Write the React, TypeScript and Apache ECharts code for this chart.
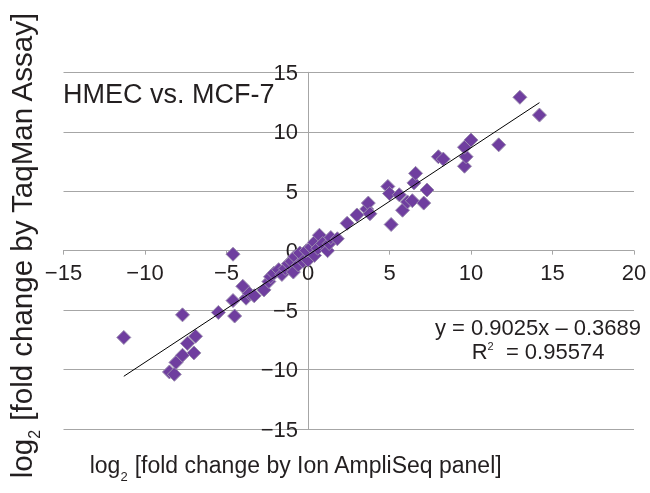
import React, { useEffect, useRef } from 'react';
import * as echarts from 'echarts';

const FONT = '"Helvetica Neue", "Liberation Sans", Arial, sans-serif';

// log2 fold change by Ion AmpliSeq panel (x)
const ampliSeqLog2 = [
  -11.3, -8.5, -8.2, -8.1, -7.7, -7.7, -7.4, -7.0, -6.9, -5.5,
  -4.6, -4.6, -4.5, -4.0, -3.8, -3.6, -3.3, -2.7, -2.4, -2.3,
  -2.1, -1.8, -1.6, -1.4, -1.2, -1.0, -0.9, -0.8, -0.6, -0.5,
  -0.3, 0.0, -0.1, 0.2, 0.4, 0.4, 0.6, 0.7, 0.9, 1.2,
  1.3, 1.4, 1.8, 2.4, 3.0, 3.6, 3.7, 3.8, 4.9, 5.0,
  5.1, 5.6, 5.8, 6.1, 6.4, 6.5, 6.6, 7.1, 7.3, 8.0,
  8.3, 9.6, 9.7, 9.6, 10.0, 11.7, 13.0, 14.2,
];
// log2 fold change by TaqMan Assay (y)
const taqmanLog2 = [
  -7.3, -10.2, -10.4, -9.4, -8.8, -5.4, -7.8, -8.6, -7.2, -5.2,
  -0.3, -4.2, -5.5, -3.0, -4.0, -3.6, -3.8, -3.3, -2.6, -2.2,
  -1.9, -1.6, -2.0, -1.5, -1.1, -0.9, -1.8, -0.5, -1.2, -0.2,
  -0.9, -0.8, 0.0, 0.3, -0.4, 0.7, 0.2, 1.3, 0.6, 0.0,
  0.6, 1.1, 1.0, 2.3, 3.0, 3.5, 4.0, 3.1, 5.4, 4.8,
  2.2, 4.7, 3.4, 4.1, 4.2, 5.7, 6.5, 4.0, 5.1, 7.9,
  7.7, 7.1, 7.9, 8.7, 9.3, 8.9, 12.9, 11.4,
];

const trendSlope = 0.9025;
const trendIntercept = -0.3689;
const rSquared = 0.95574;

const xTicks = { min: -15, max: 20, interval: 5 };
const yTicks = { min: -15, max: 15, interval: 5 };

const fmt = (v: number) => (v < 0 ? '\u2212' + Math.abs(v) : String(v));

const CHART_W = 650;
const CHART_H = 493;
const GRID_LEFT = 63.5;
const GRID_RIGHT = 16;
const GRID_TOP = 72.3;
const GRID_BOTTOM = 64;

export default function App() {
  const ref = useRef<HTMLDivElement>(null);
  useEffect(() => {
    const chart = echarts.init(ref.current!, null, { renderer: 'svg' });
    const points = ampliSeqLog2.map((x, i) => [x, taqmanLog2[i]]);
    const xMin = Math.min(...ampliSeqLog2);
    const xMax = Math.max(...ampliSeqLog2);
    const trend = [
      [xMin, trendSlope * xMin + trendIntercept],
      [xMax, trendSlope * xMax + trendIntercept],
    ];
    const gridH = CHART_H - GRID_TOP - GRID_BOTTOM;
    const gridW = CHART_W - GRID_LEFT - GRID_RIGHT;
    // distance of y = 0 above the grid bottom / of x = 0 right of the grid left
    const yZeroOffset = (gridH * (0 - yTicks.min)) / (yTicks.max - yTicks.min);
    const xZeroOffset = (gridW * (0 - xTicks.min)) / (xTicks.max - xTicks.min);
    const textColor = '#231f20';
    const gridColor = '#a6a6a6';
    chart.setOption({
      animation: false,
      grid: { left: GRID_LEFT, right: GRID_RIGHT, top: GRID_TOP, bottom: GRID_BOTTOM, containLabel: false },
      xAxis: {
        type: 'value',
        position: 'bottom',
        offset: -yZeroOffset,
        min: xTicks.min,
        max: xTicks.max,
        interval: xTicks.interval,
        axisLine: { onZero: false, lineStyle: { color: gridColor, width: 1 } },
        axisTick: { show: true, length: 4, lineStyle: { color: gridColor } },
        splitLine: { show: false },
        axisLabel: { formatter: fmt, fontSize: 22, color: textColor, fontFamily: FONT, margin: 11 },
      },
      yAxis: {
        type: 'value',
        position: 'left',
        offset: -xZeroOffset,
        min: yTicks.min,
        max: yTicks.max,
        interval: yTicks.interval,
        axisLine: { onZero: false, lineStyle: { color: gridColor, width: 1 } },
        axisTick: { show: true, length: 5, lineStyle: { color: gridColor } },
        splitLine: { show: true, lineStyle: { color: gridColor, width: 1 } },
        axisLabel: {
          formatter: fmt, fontSize: 22, color: textColor, fontFamily: FONT, margin: 10,
          padding: [0, 0, 8, 0],
        },
      },
      series: [
        {
          type: 'scatter',
          data: points,
          symbol: 'diamond',
          symbolSize: 14,
          itemStyle: { color: '#6f3e9f', borderColor: '#9a8cae', borderWidth: 1, opacity: 1 },
          z: 2,
        },
        {
          type: 'line',
          data: trend,
          showSymbol: false,
          symbol: 'none',
          lineStyle: { color: '#000000', width: 1 },
          z: 3,
        },
      ],
      graphic: [
        {
          type: 'text', x: 63, y: 94.4,
          style: { text: 'HMEC vs. MCF-7', fontSize: 27, fontFamily: FONT, fill: textColor, align: 'left', verticalAlign: 'middle' },
        },
        {
          type: 'text', x: 538, y: 327.7,
          style: {
            text: `y = ${trendSlope}x \u2013 ${Math.abs(trendIntercept)}`,
            fontSize: 22, fontFamily: FONT, fill: textColor, align: 'center', verticalAlign: 'middle',
          },
        },
        {
          type: 'text', x: 538, y: 351.7,
          style: {
            text: `R{sup|2}  = ${rSquared}`,
            fontSize: 22, fontFamily: FONT, fill: textColor, align: 'center', verticalAlign: 'middle',
            rich: { sup: { fontSize: 11, fontFamily: FONT, fill: textColor, padding: [0, 0, 12, 0] } },
          },
        },
        {
          type: 'text', x: 296, y: 465.4,
          style: {
            text: 'log{sub|2} [fold change by Ion AmpliSeq panel]',
            fontSize: 23, fontFamily: FONT, fill: textColor, align: 'center', verticalAlign: 'middle',
            rich: { sub: { fontSize: 13, fontFamily: FONT, fill: textColor, padding: [22, 0, 0, 0] } },
          },
        },
        {
          type: 'text', x: 21, y: 245, rotation: Math.PI / 2,
          style: {
            text: 'log{sub|2} [fold change by TaqMan Assay]',
            fontSize: 29.5, fontFamily: FONT, fill: textColor, align: 'center', verticalAlign: 'middle',
            rich: { sub: { fontSize: 16, fontFamily: FONT, fill: textColor, padding: [26, 0, 0, 0] } },
          },
        },
      ],
    });
    return () => chart.dispose();
  }, []);
  return <div ref={ref} style={{ position: 'fixed', left: 0, top: 0, width: CHART_W, height: CHART_H }} />;
}
